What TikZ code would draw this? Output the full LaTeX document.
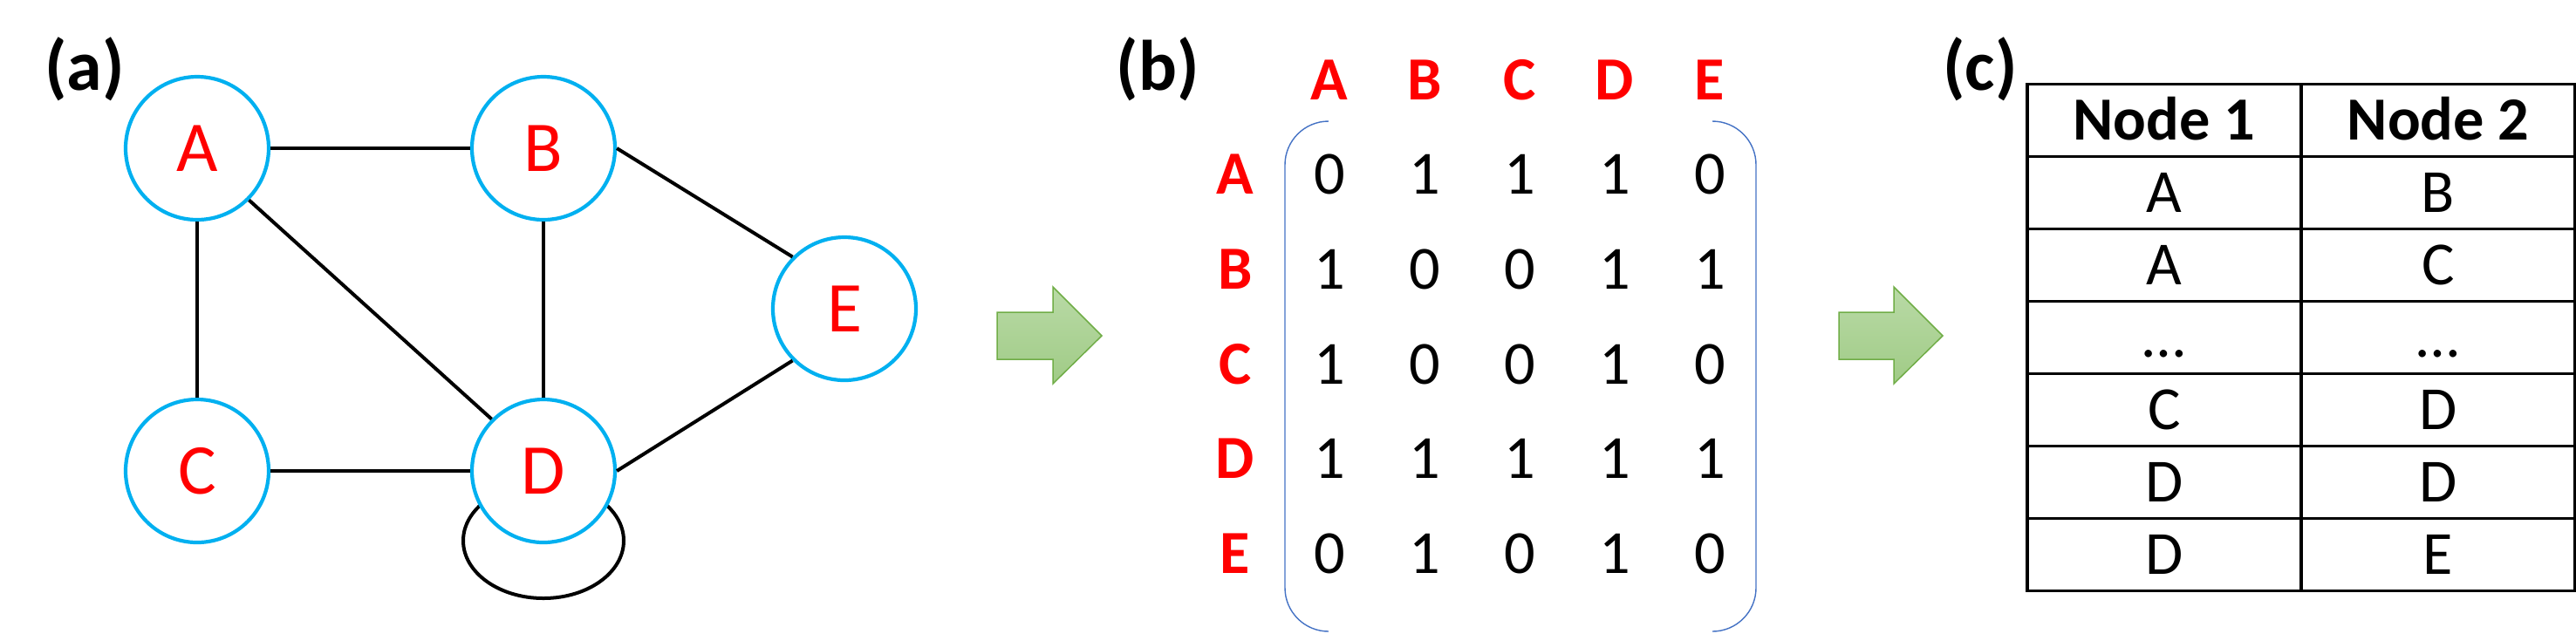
\documentclass[tikz,border=0pt]{standalone}
\usepackage{fontspec}
\setmainfont{Carlito}
\usetikzlibrary{backgrounds}
\definecolor{nodeblue}{HTML}{00B0F0}
\definecolor{bracketblue}{HTML}{4472C4}
\definecolor{arrowedge}{HTML}{70AD47}
\definecolor{arrowtop}{HTML}{B9DAA6}
\definecolor{arrowbottom}{HTML}{A0CB86}

\tikzstyle{vertex} = [circle,draw=nodeblue,fill=white,line width=0.042cm,minimum size=1.64cm,inner sep=0pt,text=red,text height=0.52cm,text depth=0pt,font=\fontsize{23.3}{28}\selectfont]
\tikzstyle{link} = [line width=0.04cm]
\tikzstyle{panel} = [anchor=base,font=\fontsize{23.3}{28}\selectfont\bfseries]
\tikzstyle{colhead} = [text=red,text height=0.44cm,text depth=0pt,inner sep=0pt,font=\fontsize{20}{24}\selectfont\bfseries]
\tikzstyle{entry} = [text height=0.44cm,text depth=0pt,inner sep=0pt,font=\fontsize{20}{24}\selectfont]
\tikzstyle{bracket} = [draw=bracketblue,line width=0.014cm]
\tikzstyle{flow} = [draw=arrowedge,line width=0.015cm,top color=arrowtop,bottom color=arrowbottom]
\tikzstyle{cell} = [draw,line width=0.033cm,minimum width=3.14cm,minimum height=0.83cm,inner sep=0pt,text height=0.44cm,text depth=0pt,font=\fontsize{20}{24}\selectfont]

\begin{document}
\begin{tikzpicture}
	\useasboundingbox (0,0) rectangle (29.53,-7.26);
	% (a) the graph
	\node[panel] (la) at (0.97,-1.03) {(a)};
	\node[vertex] (A) at (2.26,-1.70) {A};
	\node[vertex] (B) at (6.23,-1.70) {B};
	\node[vertex] (C) at (2.26,-5.40) {C};
	\node[vertex] (D) at (6.23,-5.40) {D};
	\node[vertex] (E) at (9.68,-3.54) {E};
	\draw[link] (A) -- (B);
	\draw[link] (A) -- (C);
	\draw[link] (A.-45) -- (D.135);
	\draw[link] (B) -- (D);
	\draw[link] (B.east) -- (E.135);
	\draw[link] (C) -- (D);
	\draw[link] (D.east) -- (E.-135);
	% self loop sits behind D
	\begin{pgfonlayer}{background}
		\draw[link] ([yshift=-0.8cm]D.center) ellipse [x radius=0.92cm,y radius=0.66cm];
	\end{pgfonlayer}

	% (b) adjacency matrix
	\draw[flow] (11.43,-3.58) -- ++(0.64,0) -- ++(0,0.29) -- ++(0.56,-0.56) -- ++(-0.56,-0.55) -- ++(0,0.28) -- ++(-0.64,0) -- cycle;
	\node[panel] (lb) at (13.27,-1.03) {(b)};
	\foreach \lab/\vals [count=\r] in {A/{0,1,1,1,0},B/{1,0,0,1,1},C/{1,0,0,1,0},D/{1,1,1,1,1},E/{0,1,0,1,0}} {
		\node[colhead] (c-\lab) at ({15.24+1.09*(\r-1)},-0.92) {\lab};
		\node[colhead] (r-\lab) at (14.16,{-2.005-1.088*(\r-1)}) {\lab};
		\foreach \v [count=\c] in \vals
			\node[entry] (m-\r-\c) at ({15.24+1.09*(\c-1)},{-2.005-1.088*(\r-1)}) {\v};
	}
	\draw[bracket] (15.23,-1.39) arc[start angle=90,end angle=180,radius=0.5] -- (14.73,-6.74) arc[start angle=180,end angle=270,radius=0.5];
	\draw[bracket] (19.63,-1.39) arc[start angle=90,end angle=0,radius=0.5] -- (20.13,-6.74) arc[start angle=0,end angle=-90,radius=0.5];

	% (c) edge list
	\draw[flow] (21.08,-3.58) -- ++(0.63,0) -- ++(0,0.29) -- ++(0.56,-0.56) -- ++(-0.56,-0.55) -- ++(0,0.28) -- ++(-0.63,0) -- cycle;
	\node[panel] (lc) at (22.70,-1.03) {(c)};
	\node[cell,font=\fontsize{20}{24}\selectfont\bfseries] (h-1) at (24.81,-1.38) {Node 1};
	\node[cell,font=\fontsize{20}{24}\selectfont\bfseries] (h-2) at (27.95,-1.38) {Node 2};
	\foreach \p/\q [count=\r] in {A/B,A/C,…/…,C/D,D/D,D/E} {
		\node[cell] (t-\r-1) at (24.81,{-1.38-0.83*\r}) {\p};
		\node[cell] (t-\r-2) at (27.95,{-1.38-0.83*\r}) {\q};
	}
\end{tikzpicture}
\end{document}
